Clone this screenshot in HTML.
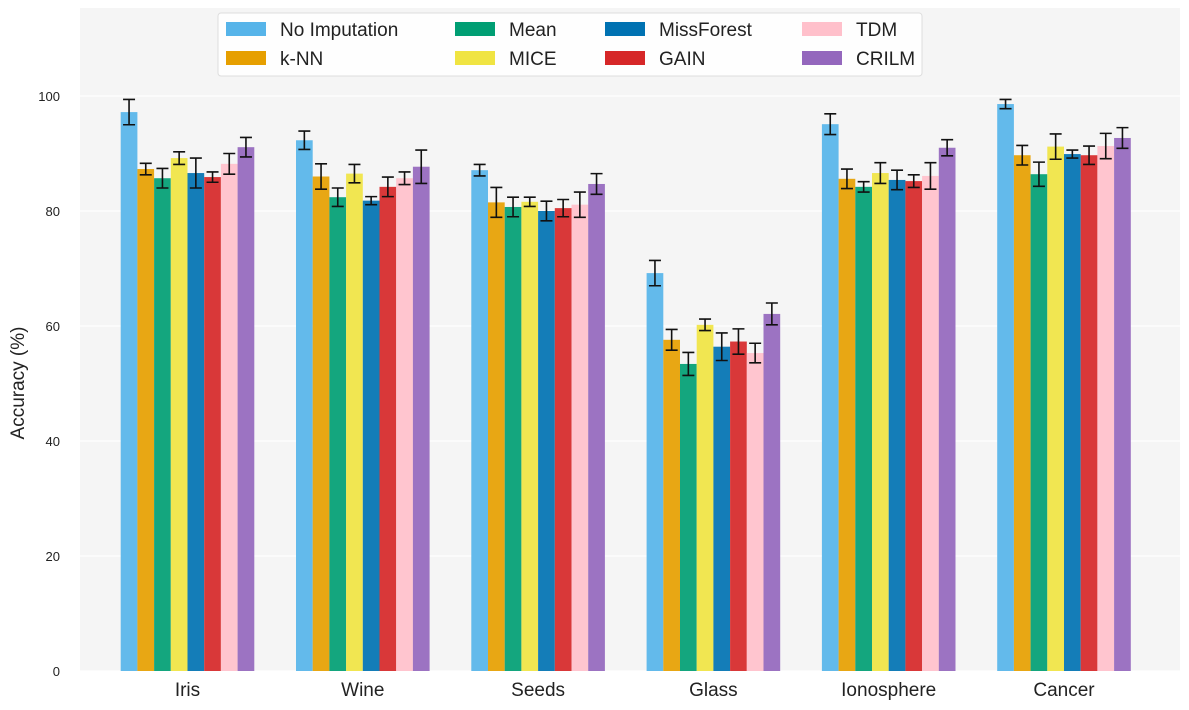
<!DOCTYPE html>
<html><head><meta charset="utf-8"><style>
body{margin:0;background:#fff;}
svg{display:block;font-family:"Liberation Sans","DejaVu Sans",sans-serif;}
</style></head><body>
<svg id="chart" width="1189" height="710">
<rect x="80" y="8" width="1100" height="663" fill="#f5f5f5"/>
<g id="grid"></g><g id="bars"></g><g id="yticks"></g><g id="xticks"></g>
<text x="24" y="383" transform="rotate(-90 24 383)" text-anchor="middle" font-size="19" fill="#222">Accuracy (%)</text>
<g id="legend"></g>
</svg>
<script>
const categories=["Iris","Wine","Seeds","Glass","Ionosphere","Cancer"];
const methods=["No Imputation","k-NN","Mean","MICE","MissForest","GAIN","TDM","CRILM"];
const colors=["#56b4e9","#e69f00","#009e73","#f0e442","#0072b2","#d62728","#ffc0cb","#9467bd"];
const noImp=[97.2,92.3,87.1,69.2,95.1,98.6];
const knn=[87.3,86.0,81.5,57.6,85.6,89.7];
const mean=[85.7,82.4,80.7,53.4,84.2,86.4];
const mice=[89.2,86.5,81.6,60.2,86.6,91.2];
const missForest=[86.6,81.8,80.0,56.4,85.4,89.9];
const gain=[85.9,84.2,80.5,57.3,85.2,89.7];
const tdm=[88.2,85.7,81.1,55.3,86.1,91.3];
const crilm=[91.1,87.7,84.7,62.1,91.0,92.7];
const errNoImp=[2.2,1.6,1.0,2.2,1.8,0.8];
const errKnn=[1.0,2.2,2.6,1.8,1.7,1.7];
const errMean=[1.7,1.6,1.7,2.0,0.9,2.1];
const errMice=[1.1,1.6,0.8,1.0,1.8,2.2];
const errMissForest=[2.6,0.7,1.7,2.4,1.7,0.7];
const errGain=[0.9,1.7,1.5,2.2,1.1,1.6];
const errTdm=[1.8,1.1,2.2,1.7,2.3,2.2];
const errCrilm=[1.7,2.9,1.8,1.9,1.4,1.8];
const yTicks=[0,20,40,60,80,100];
const series=[noImp,knn,mean,mice,missForest,gain,tdm,crilm];
const errs=[errNoImp,errKnn,errMean,errMice,errMissForest,errGain,errTdm,errCrilm];
const NS="http://www.w3.org/2000/svg";
const y=v=>671-5.75*v;
const bw=16.7, gx=i=>187.5+i*175.3;
function mk(tag,attrs,parent,text){const e=document.createElementNS(NS,tag);for(const k in attrs)e.setAttribute(k,attrs[k]);if(text!==undefined)e.textContent=text;parent.appendChild(e);return e;}
const grid=document.getElementById('grid'),bars=document.getElementById('bars'),yt=document.getElementById('yticks'),xt=document.getElementById('xticks');
yTicks.forEach(t=>{
 const l=mk('line',{x1:80,x2:1180,y1:y(t),y2:y(t),stroke:'#fff','stroke-width':1.2},grid);
 
 
 const tx=mk('text',{x:60,y:y(t)+5,'text-anchor':'end','font-size':13,fill:'#222'},yt,String(t));
 
 
});
categories.forEach((c,i)=>{
 const tx=mk('text',{x:gx(i),y:696,'text-anchor':'middle','font-size':19,fill:'#222'},xt,c);
 
 
 series.forEach((s,j)=>{
  const x0=gx(i)-4*bw+j*bw;
  const r=mk('rect',{x:x0,y:y(s[i]),width:bw,height:671-y(s[i]),fill:colors[j],'fill-opacity':0.92},bars);
  
  
  const cx=x0+bw/2,e=errs[j][i],t=y(s[i]+e),b=y(s[i]-e);
  const g=mk('path',{d:`M${cx},${t}V${b}M${cx-6},${t}H${cx+6}M${cx-6},${b}H${cx+6}`,stroke:'#111','stroke-width':1.6,fill:'none'},bars);
  
  
 });
});
const lg=document.getElementById('legend');
mk('rect',{x:218,y:13,width:704,height:63,fill:'#fff','fill-opacity':0.85,stroke:'#ddd',rx:3},lg);
const px=[226,455,605,802];
methods.forEach((m,k)=>{
 const col=Math.floor(k/2),row=k%2,cy=29+row*29;
 const p=mk('rect',{x:px[col],y:cy-7,width:40,height:14,fill:colors[k]},lg);
 
 
 const t=mk('text',{x:px[col]+54,y:cy+7,'font-size':19,fill:'#222'},lg,m);
 
 
});
</script>
</body></html>
